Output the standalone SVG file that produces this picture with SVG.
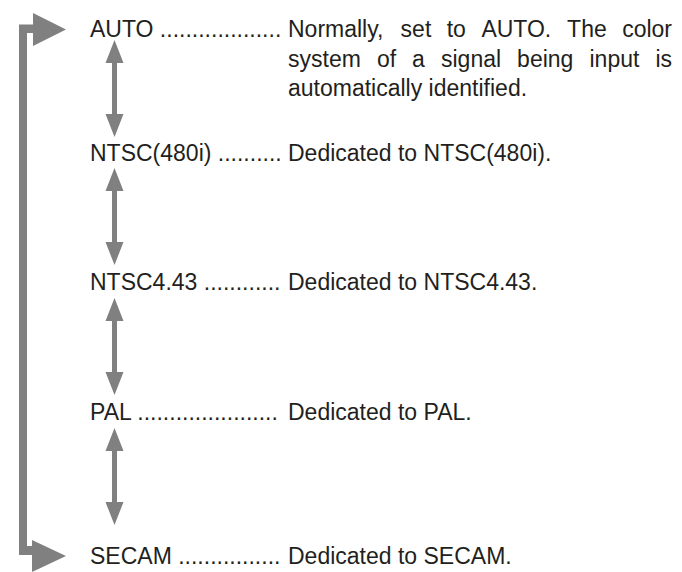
<svg xmlns="http://www.w3.org/2000/svg" width="682" height="572" viewBox="0 0 682 572">
<style>
  text { font-family: "Liberation Sans", Arial, sans-serif; font-size: 23px; fill: #231f20; }
  .arr { fill: #808080; }
</style>
<defs>
  <path id="dbl" d="M0,0 L9,23 L2.5,23 L2.5,74 L9,74 L0,97 L-9,74 L-2.5,74 L-2.5,23 L-9,23 Z"/>
</defs>
<g id="connectors" class="arr">
  <path id="loop" d="M66,29.5 L33,46 L33,33 L27,33 L27,546 L32,546 L32,540 L66,556 L32,572 L32,555 L19,555 L19,24.5 L33,24.5 L33,13 Z"/>
  <use href="#dbl" transform="translate(114.5,40)"/>
  <use href="#dbl" transform="translate(114.5,168)"/>
  <use href="#dbl" transform="translate(114.5,298)"/>
  <use href="#dbl" transform="translate(114.5,428)"/>
</g>
<g id="auto">
  <text x="90" y="37">AUTO ...................</text>
  <text y="37"><tspan x="288">Normally,</tspan><tspan x="400.6">set</tspan><tspan x="446.7">to</tspan><tspan x="481.4">AUTO.</tspan><tspan x="567.1">The</tspan><tspan x="672" text-anchor="end">color</tspan></text>
  <text y="66.5"><tspan x="288">system</tspan><tspan x="376.9">of</tspan><tspan x="412.1">a</tspan><tspan x="441">signal</tspan><tspan x="517.1">being</tspan><tspan x="589.5">input</tspan><tspan x="672" text-anchor="end">is</tspan></text>
  <text x="288" y="96">automatically identified.</text>
</g>
<g id="ntsc480i">
  <text x="90" y="161">NTSC(480i) ..........</text>
  <text x="288" y="161">Dedicated to NTSC(480i).</text>
</g>
<g id="ntsc443">
  <text x="90" y="290">NTSC4.43 ............</text>
  <text x="288" y="290">Dedicated to NTSC4.43.</text>
</g>
<g id="pal">
  <text x="90" y="420">PAL ......................</text>
  <text x="288" y="420">Dedicated to PAL.</text>
</g>
<g id="secam">
  <text x="90" y="564">SECAM ................</text>
  <text x="288" y="564">Dedicated to SECAM.</text>
</g>
</svg>
